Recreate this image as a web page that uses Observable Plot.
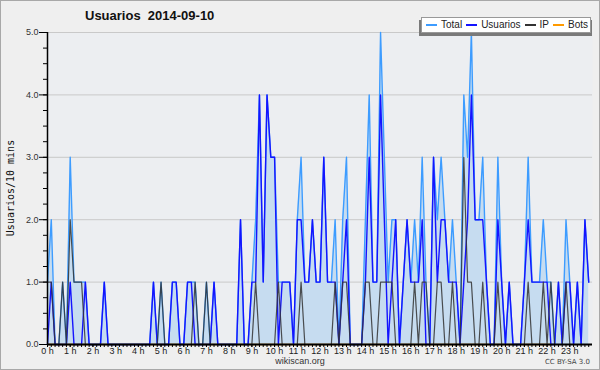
<!DOCTYPE html>
<html>
<head>
<meta charset="utf-8">
<script src="https://cdn.jsdelivr.net/npm/d3@7"></script>
<script src="https://cdn.jsdelivr.net/npm/@observablehq/plot@0.6"></script>
<style>
  body { margin: 0; background: #fff; }
  #wrap { position: relative; width: 600px; height: 370px; background: #efefef; overflow: hidden; font-family: "Liberation Sans", Arial, sans-serif; }
  #wrap svg { position: absolute; left: 0; top: 0; }
  #border { position: absolute; left: 0; top: 0; width: 598px; height: 368px; border: 1px solid #a8a8a8; pointer-events: none; }
  #title { position: absolute; left: 85px; top: 8px; font: bold 13px "Liberation Sans", Arial, sans-serif; color: #111; white-space: pre; }
  #ylab { position: absolute; left: 10px; top: 188px; transform: translate(-50%, -50%) rotate(-90deg); font: 10px "DejaVu Sans Mono", monospace; color: #111; white-space: nowrap; }
  #foot { position: absolute; left: 300px; top: 356px; transform: translateX(-50%); font: 9px/10px "Liberation Sans", Arial, sans-serif; color: #333; }
  #cc { position: absolute; right: 10px; top: 358px; font: 7px/8px "DejaVu Sans", sans-serif; color: #444; }
  #lshadow { position: absolute; left: 419px; top: 20px; width: 173px; height: 16px; background: #7a7a7a; }
  #legend { position: absolute; left: 421px; top: 17px; width: 168px; height: 14px; background: #fff; border: 1px solid #999; display: flex; align-items: center; font: 10px/12px "Liberation Sans", Arial, sans-serif; color: #222; white-space: nowrap; overflow: hidden; }
  #legend .sw { display: block; flex: 0 0 11px; width: 11px; height: 1.5px; margin: 0 4px 0 4px; }
  #legend .tx { flex: 0 0 auto; }
</style>
</head>
<body>
<div id="wrap">
  <div id="chart"></div>
  <div id="title"></div>
  <div id="ylab"></div>
  <div id="lshadow"></div>
  <div id="legend"></div>
  <div id="foot"></div>
  <div id="cc"></div>
  <div id="border"></div>
</div>
<script>
// ---- texts ----
const titleText = "Usuarios  2014-09-10";
const yAxisTitle = "Usuarios/10 mins";
const footerText = "wikiscan.org";
const licenseText = "CC BY-SA 3.0";

// ---- series names & colors ----
const seriesNames = ["Total", "Usuarios", "IP", "Bots"];
const seriesColors = ["#3d9cff", "#1414ff", "#333333", "#ff9a00"];

// ---- ticks ----
const hourTicks = [0,1,2,3,4,5,6,7,8,9,10,11,12,13,14,15,16,17,18,19,20,21,22,23];
const hourLabels = ["0 h","1 h","2 h","3 h","4 h","5 h","6 h","7 h","8 h","9 h","10 h","11 h","12 h","13 h","14 h","15 h","16 h","17 h","18 h","19 h","20 h","21 h","22 h","23 h"];
const yTicks = [0,1,2,3,4,5];
const yLabels = ["0.0","1.0","2.0","3.0","4.0","5.0"];

// ---- data: 144 ten-minute slots (minutes since 00:00) ----
const slotMinutes = d3.range(0, 1440, 10);

const total = [
  1,2,0,0,1,0,3,1,1,1,
  1,0,0,0,0,1,0,0,0,0,
  0,0,0,0,0,0,0,0,1,0,
  1,0,0,1,1,0,0,1,1,1,
  0,0,1,0,1,0,0,0,0,0,
  0,2,0,0,1,2,4,1,4,3,
  3,1,1,1,1,0,2,3,1,1,
  2,1,1,3,1,1,2,0,2,3,
  0,0,0,0,2,4,1,1,5,3,
  1,2,2,0,1,2,1,2,1,3,
  1,0,3,2,3,2,1,2,1,0,
  4,3,5,2,2,3,1,0,0,3,
  1,0,1,0,0,0,1,3,1,1,
  1,2,1,1,0,1,0,2,1,0,
  1,0,2,1
];
const usuarios = [
  0,1,0,0,0,0,1,0,0,0,
  1,0,0,0,0,1,0,0,0,0,
  0,0,0,0,0,0,0,0,1,0,
  0,0,0,1,1,0,0,1,1,0,
  0,0,0,0,1,0,0,0,0,0,
  0,2,0,0,1,1,4,1,4,3,
  3,0,1,1,1,0,2,2,1,1,
  2,1,1,3,1,1,1,0,1,2,
  0,0,0,0,1,3,1,1,4,2,
  0,1,2,0,1,2,1,1,1,2,
  0,0,3,1,2,2,1,1,1,0,
  1,2,4,2,2,2,1,0,0,2,
  1,0,1,0,0,0,1,2,1,1,
  1,1,1,0,0,1,0,1,1,0,
  1,0,2,1
];
const ip = [
  1,1,0,0,1,0,2,1,1,1,
  0,0,0,0,0,0,0,0,0,0,
  0,0,0,0,0,0,0,0,0,0,
  1,0,0,0,0,0,0,0,0,1,
  0,0,1,0,0,0,0,0,0,0,
  0,0,0,0,0,1,0,0,0,0,
  0,1,0,0,0,0,0,1,0,0,
  0,0,0,0,0,0,1,0,1,1,
  0,0,0,0,1,1,0,0,1,1,
  1,1,0,0,0,0,0,1,0,1,
  1,0,0,1,1,0,0,1,0,0,
  3,1,1,0,0,1,0,0,0,1,
  0,0,0,0,0,0,0,1,0,0,
  0,1,0,1,0,0,0,1,0,0,
  0,0,0,0
];
const bots = [
  0,0,0,0,0,0,0,0,0,0, 0,0,0,0,0,0,0,0,0,0, 0,0,0,0,0,0,0,0,0,0,
  0,0,0,0,0,0,0,0,0,0, 0,0,0,0,0,0,0,0,0,0, 0,0,0,0,0,0,0,0,0,0,
  0,0,0,0,0,0,0,0,0,0, 0,0,0,0,0,0,0,0,0,0, 0,0,0,0,0,0,0,0,0,0,
  0,0,0,0,0,0,0,0,0,0, 0,0,0,0,0,0,0,0,0,0, 0,0,0,0,0,0,0,0,0,0,
  0,0,0,0,0,0,0,0,0,0, 0,0,0,0
];

const rows = slotMinutes.map((m, i) => ({
  h: m / 60, total: total[i], usuarios: usuarios[i], ip: ip[i], bots: bots[i]
}));

const chart = Plot.plot({
  width: 600,
  height: 370,
  marginLeft: 47,
  marginRight: 8,
  marginTop: 32,
  marginBottom: 26,
  style: { background: "transparent", fontFamily: "'Liberation Sans', Arial, sans-serif", fontSize: "9px", color: "#222" },
  x: { domain: [0, 24], label: null },
  y: { domain: [0, 5], label: null },
  marks: [
    Plot.frame({ fill: "#eceef1", stroke: null }),
    Plot.ruleY(yTicks.filter(d => d > 0), { stroke: "#c9c9c9", strokeWidth: 1 }),
    Plot.areaY(rows, { x: "h", y: "total", fill: "#c6dcf0", curve: "linear" }),
    Plot.lineY(rows, { x: "h", y: "bots", stroke: seriesColors[3], strokeWidth: 1.4 }),
    Plot.lineY(rows, { x: "h", y: "total", stroke: seriesColors[0], strokeWidth: 1.4 }),
    Plot.lineY(rows, { x: "h", y: "usuarios", stroke: seriesColors[1], strokeWidth: 1.4 }),
    Plot.lineY(rows, { x: "h", y: "ip", stroke: seriesColors[2], strokeWidth: 1.2, strokeOpacity: 0.85 }),
    // axes
    Plot.axisY(d3.range(0, 5.001, 0.25), { tickSize: 4, tickFormat: () => "", stroke: "#000", label: null }),
    Plot.axisY(yTicks, { tickSize: 8, tickPadding: 1, tickFormat: d => yLabels[yTicks.indexOf(d)], stroke: "#000", fill: "#333", label: null }),
    Plot.axisX(slotMinutes.map(m => m / 60), { tickSize: 3, tickFormat: () => "", stroke: "#000", label: null }),
    Plot.axisX(hourTicks, { tickSize: 3, tickPadding: 0, tickFormat: d => hourLabels[hourTicks.indexOf(d)], stroke: "#000", fill: "#222", label: null }),
    Plot.ruleX([0], { stroke: "#000", strokeWidth: 1.5 }),
    Plot.ruleY([0], { stroke: "#000", strokeWidth: 2 })
  ]
});
document.getElementById("chart").appendChild(chart);

document.getElementById("title").textContent = titleText;
document.getElementById("ylab").textContent = yAxisTitle;
document.getElementById("foot").textContent = footerText;
document.getElementById("cc").textContent = licenseText;

const legend = document.getElementById("legend");
seriesNames.forEach((name, i) => {
  const sw = document.createElement("span");
  sw.className = "sw";
  sw.style.background = seriesColors[i];
  legend.appendChild(sw);
  const t = document.createElement("span");
  t.className = "tx";
  t.textContent = name;
  legend.appendChild(t);
});
</script>
</body>
</html>
